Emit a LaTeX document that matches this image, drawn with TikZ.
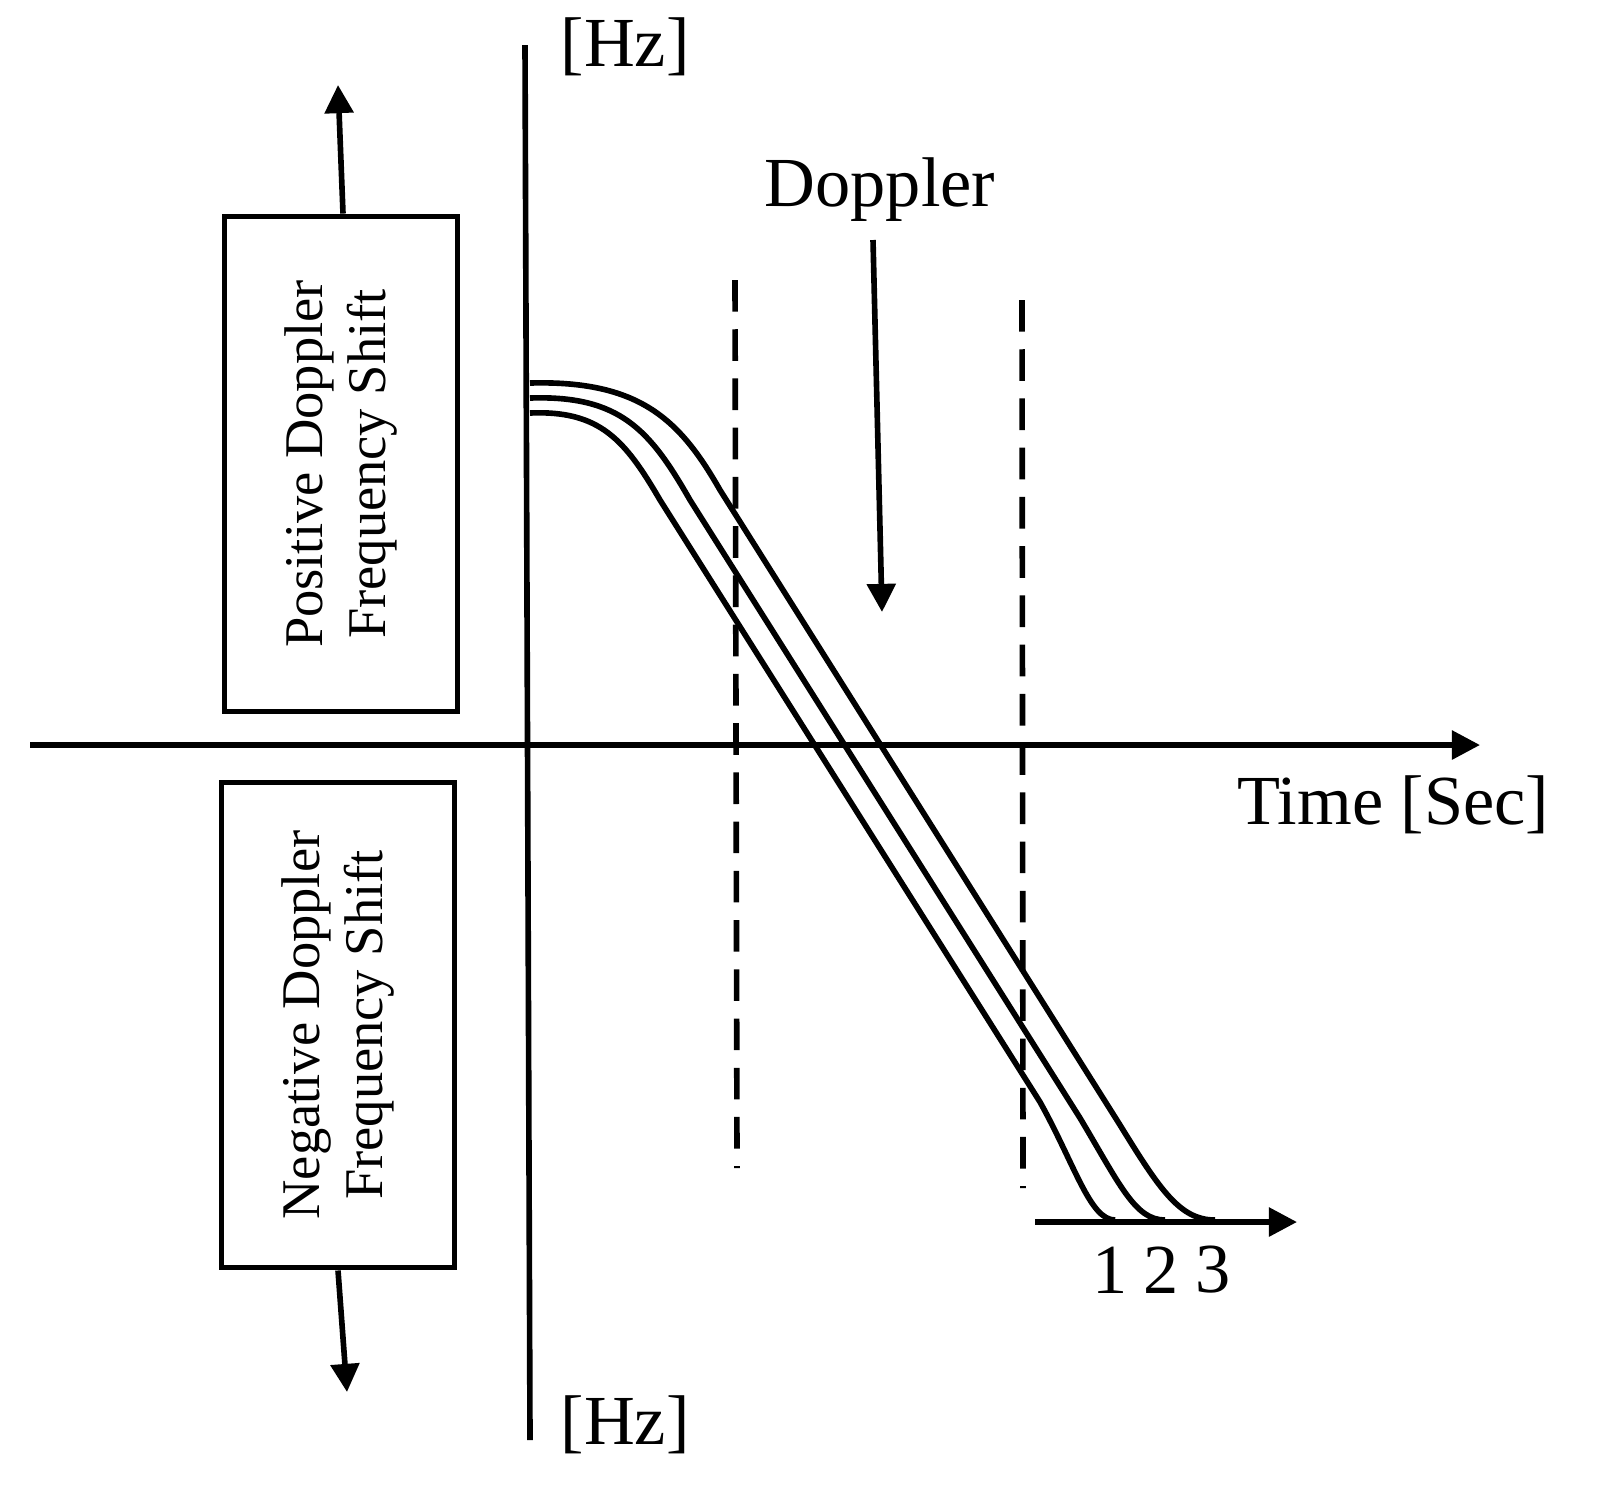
\documentclass[tikz,border=0pt]{standalone}
\usepackage{fontspec}
\setmainfont{Liberation Serif}
\usetikzlibrary{arrows.meta}
\begin{document}
\begin{tikzpicture}[x=0.01cm,y=-0.01cm,line width=1.6pt,
  lbl/.style={font=\fontsize{20}{22}\selectfont,inner sep=0pt},
  rlbl/.style={font=\fontsize{15.5}{18}\selectfont,inner sep=0pt},
  box/.style={draw,minimum width=2.33cm,minimum height=4.95cm,inner sep=0pt},
  arr/.style={-{Triangle[length=8pt,width=8pt]}},
  dashln/.style={dash pattern=on 9pt off 5pt}]
\useasboundingbox (0,0) rectangle (1598,1502);
\coordinate (vt) at (525,45); \coordinate (vb) at (530,1440);
\draw (vt) -- (vb);
\coordinate (hl) at (30,745); \coordinate (hr) at (1480,745);
\draw[arr] (hl) -- (hr);
\node[lbl] (hz1) at (625,47) {[Hz]};
\node[lbl] (hz2) at (625,1425) {[Hz]};
\node[lbl,anchor=east] (time) at (1552,805) {Time [Sec]};
\node[lbl] (dop) at (880,190) {Doppler};
\coordinate (da) at (873,240); \coordinate (db) at (882,612);
\draw[arr] (da) -- (db);
\node[box] (pos) at (341,464) {};
\node[rlbl,rotate=90,align=center] (post) at (pos.center) {Positive Doppler\\Frequency Shift};
\node[box,minimum height=4.85cm] (neg) at (338,1025) {};
\node[rlbl,rotate=90,align=center] (negt) at (neg.center) {Negative Doppler\\Frequency Shift};
\coordinate (pu) at (338,85); \draw[arr] ([xshift=0.02cm]pos.north) -- (pu);
\coordinate (nd) at (347,1392); \draw[arr] (neg.south) -- (nd);
\coordinate (d1a) at (735,280); \coordinate (d1b) at (737,1168);
\draw[dashln] (d1a) -- (d1b);
\coordinate (d2a) at (1022,300); \coordinate (d2b) at (1023,1188);
\draw[dashln] (d2a) -- (d2b);
\coordinate (sa) at (1035,1222); \coordinate (sb) at (1297,1222);
\draw[arr] (sa) -- (sb);
\draw (530,383) .. controls (640,380) and (680,420) .. (720,490) -- (1120,1125) .. controls (1160,1190) and (1180,1220) .. (1215,1220);
\draw (530,398) .. controls (620,395) and (650,430) .. (690,500) -- (1080,1118) .. controls (1120,1185) and (1135,1220) .. (1165,1220);
\draw (530,413) .. controls (600,410) and (625,440) .. (660,500) -- (1040,1102) .. controls (1075,1165) and (1090,1220) .. (1115,1220);
\node[lbl] (n1) at (1110,1270) {1};
\node[lbl] (n2) at (1161,1270) {2};
\node[lbl] (n3) at (1213,1270) {3};
\end{tikzpicture}
\end{document}
